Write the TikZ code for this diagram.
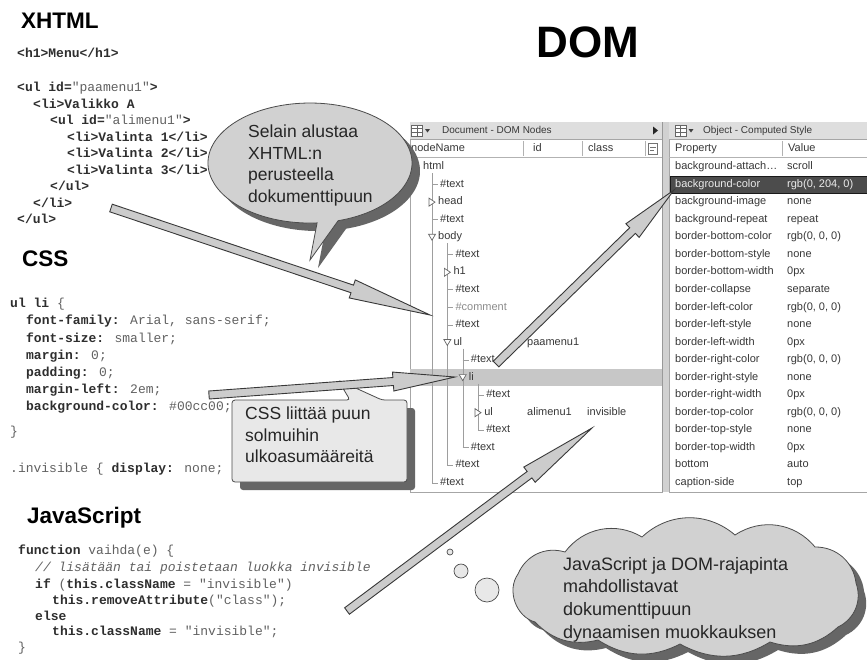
\documentclass[tikz,border=0pt]{standalone}
\usepackage{fontspec}
\setmainfont{Liberation Sans}
\newfontfamily\codefont{Liberation Mono}
\usetikzlibrary{shadows,calc}

\definecolor{codeink}{gray}{0.18}
\definecolor{codesoft}{gray}{0.38}
\definecolor{panelink}{gray}{0.22}
\definecolor{treegray}{gray}{0.62}
\definecolor{balloonfill}{gray}{0.82}
\definecolor{boxfill}{gray}{0.91}
\definecolor{shadowgray}{gray}{0.40}
\definecolor{arrowfill}{gray}{0.80}
\definecolor{arrowedge}{gray}{0.22}

\newcommand\kw[1]{\textbf{\textcolor{codeink}{#1}}}

\tikzset{
  heading/.style={font=\bfseries\fontsize{22.5}{27}\selectfont, anchor=mid west, inner sep=0pt},
  codeline/.style={font=\codefont\fontsize{13}{16}\selectfont, text=codesoft, anchor=mid west, inner sep=0pt},
  rowtext/.style={font=\fontsize{11}{13}\selectfont, text=panelink, anchor=mid west, inner sep=0pt},
  titletext/.style={font=\fontsize{10}{12}\selectfont, text=panelink, anchor=mid west, inner sep=0pt},
  treeline/.style={draw=treegray, line width=0.8pt},
  treetri/.style={draw=black!60, fill=white, line width=0.7pt, line join=miter},
  castshadow/.style={drop shadow={shadow xshift=8pt, shadow yshift=-8pt, fill=shadowgray, opacity=1}},
  balloon/.style={draw=black!70, line width=0.8pt, fill=balloonfill, castshadow},
  balloontext/.style={font=\fontsize{17.5}{21.5}\selectfont, text=black!85, align=left, inner sep=0pt, anchor=north west},
  blockarrow/.style={fill=arrowfill, draw=arrowedge, line width=0.9pt, line join=miter},
  panelframe/.style={draw=black!35, line width=0.6pt},
  puff/.style={bend left=42},
  flatpuff/.style={bend left=30},
}

% wide flat arrow: name, tail, tip, head length
\newcommand\drawblockarrow[4]{%
  \coordinate (#1-t) at #2;
  \coordinate (#1-h) at #3;
  \coordinate (#1-n) at ($(#1-h)!#4pt!(#1-t)$);
  \draw[blockarrow] ($(#1-t)!4pt!90:(#1-h)$) -- ($(#1-n)!4pt!90:(#1-h)$)
     -- ($(#1-n)!9.5pt!90:(#1-h)$) -- (#1-h) -- ($(#1-n)!9.5pt!-90:(#1-h)$)
     -- ($(#1-n)!4pt!-90:(#1-h)$) -- ($(#1-t)!4pt!-90:(#1-h)$) -- cycle;
}

% tree rows of the node inspector
\newcommand\domleaf[4][]{%
  \pgfmathsetmacro\rowy{167+17.55*#2}%
  \pgfmathsetmacro\rowx{432+15.35*(#3-1)}%
  \draw[treeline] (\rowx,\rowy) -- (\rowx+6,\rowy);
  \node[rowtext,#1] (r#2) at (\rowx+8,\rowy) {#4};
}
\newcommand\dombranch[4]{%
  \pgfmathsetmacro\rowy{167+17.55*#1}%
  \pgfmathsetmacro\rowx{432+15.35*(#2-1)}%
  \ifnum#3=1
    \draw[treetri] (\rowx-3.5,\rowy-3) -- (\rowx+3.5,\rowy-3) -- (\rowx,\rowy+3) -- cycle;
  \else
    \draw[treetri] (\rowx-3,\rowy-4) -- (\rowx+3,\rowy) -- (\rowx-3,\rowy+4) -- cycle;
  \fi
  \node[rowtext] (r#1) at (\rowx+6,\rowy) {#4};
}

\begin{document}
\begin{tikzpicture}[x=1pt,y=-1pt]
\useasboundingbox (0,0) rectangle (867,659);
\fill[white] (0,0) rectangle (867,659);

% ---------- headings ----------
\node[heading] (xhtmlhead) at (21,25.5) {XHTML};
\node[heading] (csshead) at (22,264) {CSS};
\node[heading] (jshead) at (27,520.5) {JavaScript};
\node[font=\bfseries\fontsize{44}{50}\selectfont, inner sep=0pt] (domhead) at (588,42) {DOM};

% ---------- XHTML source ----------
\node[codeline] (x1) at (17,55) {\kw{<h1>Menu</h1>}};
\node[codeline] (x2) at (17,89) {\kw{<ul id=}"paamenu1"\kw{>}};
\node[codeline] (x3) at (33,105.5) {\kw{<li>Valikko A}};
\node[codeline] (x4) at (50,122) {\kw{<ul id=}"alimenu1"\kw{>}};
\node[codeline] (x5) at (67,138.5) {\kw{<li>Valinta 1</li>}};
\node[codeline] (x6) at (67,155) {\kw{<li>Valinta 2</li>}};
\node[codeline] (x7) at (67,171.5) {\kw{<li>Valinta 3</li>}};
\node[codeline] (x8) at (50,188) {\kw{</ul>}};
\node[codeline] (x9) at (33,204.5) {\kw{</li>}};
\node[codeline] (x10) at (17,221) {\kw{</ul>}};

% ---------- CSS source ----------
\node[codeline] (c1) at (10,305) {\kw{ul li} \{};
\node[codeline] (c2) at (26,322) {\kw{font-family:} Arial, sans-serif;};
\node[codeline] (c3) at (26,339.5) {\kw{font-size:} smaller;};
\node[codeline] (c4) at (26,356.5) {\kw{margin:} 0;};
\node[codeline] (c5) at (26,373.5) {\kw{padding:} 0;};
\node[codeline] (c6) at (26,390.5) {\kw{margin-left:} 2em;};
\node[codeline] (c7) at (26,407.5) {\kw{background-color:} \#00cc00;};
\node[codeline] (c8) at (10,433) {\}};
\node[codeline] (c9) at (10,470) {.invisible \{ \kw{display:} none;};

% ---------- JavaScript source ----------
\node[codeline] (j1) at (18,552) {\kw{function} vaihda(e) \{};
\node[codeline] (j2) at (35,569) {\textit{// lisätään tai poistetaan luokka invisible}};
\node[codeline] (j3) at (35,586) {\kw{if} (\kw{this.className} = "invisible")};
\node[codeline] (j4) at (52,602) {\kw{this.removeAttribute}("class");};
\node[codeline] (j5) at (35,617.5) {\kw{else}};
\node[codeline] (j6) at (52,633) {\kw{this.className} = "invisible";};
\node[codeline] (j7) at (18,648.5) {\}};

% ---------- DOM node inspector ----------
\draw[panelframe, fill=white] (410,122) rectangle (662,492);
\fill[black!13] (410,122) rectangle (662,139);
\draw[black!35] (410,139) -- (662,139);
\draw[black!60, fill=white, line width=0.5pt] (411.5,125) rectangle (422.5,136);
\draw[black!60, line width=0.5pt] (411.5,128.5) -- (422.5,128.5) (411.5,132) -- (422.5,132) (417,125) -- (417,136);
\fill[black!75] (425,129) -- (430,129) -- (427.5,132.5) -- cycle;
\node[titletext] (domtitle) at (442,130.5) {Document - DOM Nodes};
\fill[black!85] (653,126.5) -- (658,130.5) -- (653,134.5) -- cycle;
\draw[black!30] (410,157) -- (662,157);
\draw[black!30] (523,141) -- (523,156) (582,141) -- (582,156) (645,141) -- (645,156);
\node[rowtext] (hname) at (411,149) {nodeName};
\node[rowtext] (hid) at (533,149) {id};
\node[rowtext] (hclass) at (588,149) {class};
\draw[black!55, line width=0.5pt] (648.5,143.5) rectangle (657.5,154) (650,147) -- (656,147) (650,150.5) -- (654,150.5);

% selected row
\fill[black!22] (410,369) rectangle (662,386.3);

% tree guide lines
\draw[treeline] (432,173) -- (432,482.9);
\draw[treeline] (447,243) -- (447,465.4);
\draw[treeline] (463,348.5) -- (463,447.8);
\draw[treeline] (478,383.6) -- (478,430.3);

\node[rowtext] (r0) at (423,167) {html};
\domleaf{1}{1}{\#text}
\dombranch{2}{1}{0}{head}
\domleaf{3}{1}{\#text}
\dombranch{4}{1}{1}{body}
\domleaf{5}{2}{\#text}
\dombranch{6}{2}{0}{h1}
\domleaf{7}{2}{\#text}
\domleaf[text=black!45]{8}{2}{\#comment}
\domleaf{9}{2}{\#text}
\dombranch{10}{2}{1}{ul}
\domleaf{11}{3}{\#text}
\dombranch{12}{3}{1}{li}
\domleaf{13}{4}{\#text}
\dombranch{14}{4}{0}{ul}
\domleaf{15}{4}{\#text}
\domleaf{16}{3}{\#text}
\domleaf{17}{2}{\#text}
\domleaf{18}{1}{\#text}
\node[rowtext] (id10) at (527,342.5) {paamenu1};
\node[rowtext] (id14) at (527,412.7) {alimenu1};
\node[rowtext] (cl14) at (587,412.7) {invisible};

% splitter between the panels
\fill[black!18] (662,122) rectangle (669,492);
\draw[black!40, line width=0.5pt] (662,122) -- (662,492) (669,122) -- (669,492);

% ---------- computed style panel ----------
\draw[panelframe, fill=white] (669,122) rectangle (867,492);
\fill[black!13] (669,122) rectangle (867,139);
\draw[black!35] (669,139) -- (867,139);
\draw[black!60, fill=white, line width=0.5pt] (675,125) rectangle (686,136);
\draw[black!60, line width=0.5pt] (675,128.5) -- (686,128.5) (675,132) -- (686,132) (680.5,125) -- (680.5,136);
\fill[black!75] (688.5,129) -- (693.5,129) -- (691,132.5) -- cycle;
\node[titletext] (cstitle) at (703,130.5) {Object - Computed Style};
\draw[black!30] (669,157) -- (867,157);
\draw[black!30] (782,141) -- (782,156);
\node[rowtext] (hprop) at (675,149) {Property};
\node[rowtext] (hval) at (788,149) {Value};
\fill[black!70] (670,176) rectangle (867,193.2);
\draw[black!90, line width=0.6pt] (670,176) -- (867,176) (670,193.2) -- (867,193.2) (670,176) -- (670,193.2);
\foreach \p/\v [count=\i from 0] in {
  background-attach\ldots/scroll,
  background-color/{rgb(0, 204, 0)},
  background-image/none,
  background-repeat/repeat,
  border-bottom-color/{rgb(0, 0, 0)},
  border-bottom-style/none,
  border-bottom-width/0px,
  border-collapse/separate,
  border-left-color/{rgb(0, 0, 0)},
  border-left-style/none,
  border-left-width/0px,
  border-right-color/{rgb(0, 0, 0)},
  border-right-style/none,
  border-right-width/0px,
  border-top-color/{rgb(0, 0, 0)},
  border-top-style/none,
  border-top-width/0px,
  bottom/auto,
  caption-side/top}
{
  \pgfmathsetmacro\rowy{167+17.55*\i}
  \ifnum\i=1
    \node[rowtext, text=black!8] (p\i) at (675,\rowy) {\p};
    \node[rowtext, text=black!8] (v\i) at (787,\rowy) {\v};
  \else
    \node[rowtext] (p\i) at (675,\rowy) {\p};
    \node[rowtext] (v\i) at (787,\rowy) {\v};
  \fi
}

% ---------- speech balloon: ellipse with a tail ----------
\path[balloon] (338.1,220.7) arc[start angle=74, end angle=-274, x radius=102, y radius=60]
   -- (310,260) -- cycle;
\node[balloontext] (bubbletext) at (248,125) {Selain alustaa\\XHTML:n\\perusteella\\dokumenttipuun};

% ---------- CSS note: box with a pointer ----------
\path[balloon, fill=boxfill, rounded corners=3pt] (290,400) -- (350,400) -- (338,380) -- (382,400)
   -- (407,400) -- (407,482) -- (232,482) -- (232,400) -- cycle;
\node[balloontext] (cssnotetext) at (245,407) {CSS liittää puun\\solmuihin\\ulkoasumääreitä};

% ---------- thought cloud ----------
\path[balloon] (518,574) to[puff] (565,552) to[puff] (642,537) to[puff] (735,535)
   to[puff] (815,547) to[puff] (856,583) to[puff] (838,627) to[flatpuff] (770,642)
   to[flatpuff] (680,644) to[flatpuff] (598,640) to[flatpuff] (535,622) to[bend left=55] (518,574) -- cycle;
\node[circle, draw=black!70, fill=boxfill, line width=0.7pt, minimum size=6pt, inner sep=0pt] (dot1) at (450,552) {};
\node[circle, draw=black!70, fill=boxfill, line width=0.7pt, minimum size=14pt, inner sep=0pt] (dot2) at (461,571) {};
\node[circle, draw=black!70, fill=boxfill, line width=0.7pt, minimum size=24pt, inner sep=0pt] (dot3) at (487,590) {};
\node[balloontext, font=\fontsize{18}{22.7}\selectfont] (cloudtext) at (563,557) {JavaScript ja DOM-rajapinta\\mahdollistavat\\dokumenttipuun\\dynaamisen muokkauksen};

% ---------- arrows ----------
\drawblockarrow{a1}{(111,208)}{(430,315)}{82}
\drawblockarrow{a2}{(209,395)}{(455,377)}{62}
\drawblockarrow{a3}{(496,364)}{(674,190)}{58}
\drawblockarrow{a4}{(347,611)}{(592,428)}{78}
\end{tikzpicture}
\end{document}
